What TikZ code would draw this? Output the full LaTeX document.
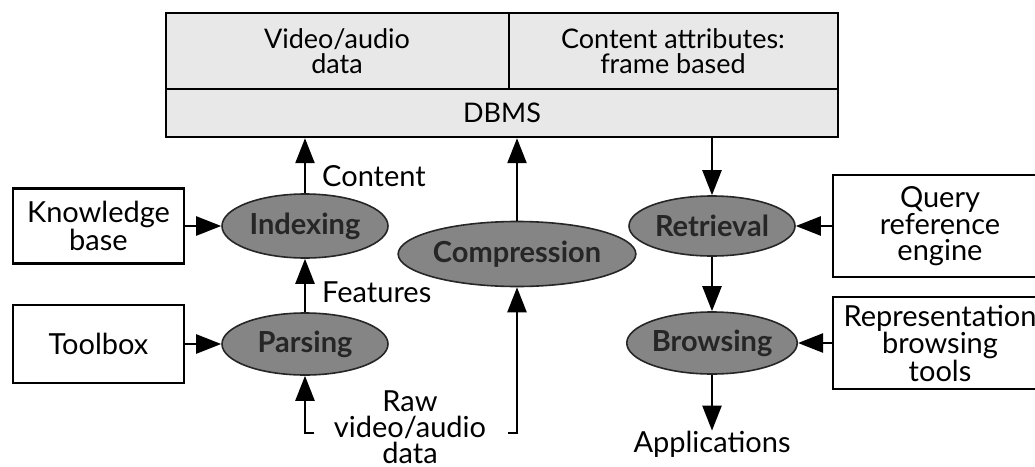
\documentclass[tikz,border=0pt]{standalone}
\usepackage{fontspec}
\setmainfont{Lato}
\usetikzlibrary{arrows.meta,shapes.geometric}

\begin{document}
\begin{tikzpicture}[x=1pt,y=-1pt,
  txt/.style={font=\fontsize{29}{26}\selectfont, align=center, inner sep=0pt},
  celltxt/.style={font=\fontsize{27}{25}\selectfont, align=center, inner sep=0pt},
  arr/.style={-{Triangle[length=25pt,width=19pt]}, line width=2.4pt},
  boxnode/.style={draw, line width=2.4pt, txt},
  proc/.style={ellipse, draw=black!85, line width=1.6pt, fill=black!48,
    inner sep=0pt, text=black!85,
    font=\fontsize{29}{26}\selectfont\bfseries},
  dbfill/.style={fill=black!9, draw, line width=2.4pt}]
\useasboundingbox (0,0) rectangle (1035,466);

% database block with its three cells
\node[dbfill, minimum width=672pt, minimum height=124pt, inner sep=0pt] (db) at (502,75) {};
\draw[line width=2.4pt] (166,89) -- (838,89);
\draw[line width=2.4pt] (509,13) -- (509,89);
\node[celltxt] (vad) at (337,51) {Video/audio\\data};
\node[celltxt] (attr) at (673,51) {Content attributes:\\frame based};
\node[celltxt] (dbms) at (502,113) {DBMS};

% input boxes on the left
\node[boxnode, minimum width=171pt, minimum height=75pt] (kb) at (98.5,226) {Knowledge\\base};
\node[boxnode, minimum width=171pt, minimum height=78pt] (tb) at (98.5,344) {Toolbox};

% processing stages
\node[proc, minimum width=166pt, minimum height=64pt] (idx) at (305,226) {Indexing};
\node[proc, minimum width=166pt, minimum height=62pt] (par) at (305,344) {Parsing};
\node[proc, minimum width=196pt, minimum height=65pt] (cmp) at (517,254) {Compression};
\node[proc, minimum width=166pt, minimum height=60pt] (ret) at (712,226) {Retrieval};
\node[proc, minimum width=166pt, minimum height=62pt] (brw) at (712,343) {Browsing};

% tool boxes on the right
\node[boxnode, minimum width=214pt, minimum height=102pt] (qre) at (940,226) {Query\\reference\\engine};
\node[boxnode, minimum width=214pt, minimum height=92pt] (rep) at (940,343) {Representation\\browsing\\tools};

% free labels
\node[txt, anchor=west] (lcont) at (322,176) {Content};
\node[txt, anchor=west] (lfeat) at (322,292) {Features};
\node[txt] (raw) at (410,427) {Raw\\video/audio\\data};
\node[txt] (app) at (712,444) {Applications};
\coordinate (rawL) at (314,433);
\coordinate (rawR) at (508,433);

% connectors
\draw[arr] (kb) -- (idx);
\draw[arr] (tb) -- (par);
\draw[arr] (par) -- (idx);
\draw[arr] (idx.north) -- (idx.north |- db.south);
\draw[arr] (rawL) -| (par.south);
\draw[arr] (rawR) -| (cmp.south);
\draw[arr] (cmp.north) -- (cmp.north |- db.south);
\draw[arr] (ret.north |- db.south) -- (ret.north);
\draw[arr] (qre) -- (ret);
\draw[arr] (ret) -- (brw);
\draw[arr] (rep) -- (brw);
\draw[arr] (brw) -- (app);
\end{tikzpicture}
\end{document}
